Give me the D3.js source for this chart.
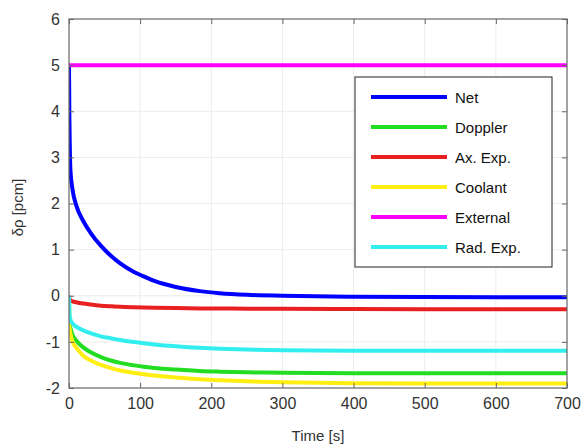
<!DOCTYPE html>
<html><head><meta charset="utf-8">
<script src="https://cdn.jsdelivr.net/npm/d3@7"></script>
<style>body{margin:0;background:#fff}svg{display:block}</style>
</head><body>
<svg id="c" width="582" height="448"></svg>
<script>
const times    = [0, 0.5, 1, 2, 5, 10, 20, 30, 45, 60, 72, 92, 105, 120, 150, 184, 212, 250, 300, 400, 500, 600, 700];
const net      = [5, 3.9, 3.35, 2.72, 2.3, 1.97, 1.62, 1.37, 1.08, 0.85, 0.7, 0.51, 0.42, 0.32, 0.19, 0.1, 0.055, 0.02, 0.0, -0.02, -0.028, -0.03, -0.03];
const doppler  = [0, -0.55, -0.62, -0.7, -0.85, -0.97, -1.12, -1.22, -1.33, -1.41, -1.455, -1.51, -1.54, -1.565, -1.6, -1.63, -1.645, -1.66, -1.67, -1.68, -1.68, -1.68, -1.68];
const axExp    = [0, -0.06, -0.08, -0.1, -0.12, -0.14, -0.17, -0.19, -0.215, -0.23, -0.24, -0.25, -0.255, -0.26, -0.268, -0.274, -0.277, -0.28, -0.283, -0.287, -0.29, -0.29, -0.29];
const coolant  = [0, -0.65, -0.72, -0.82, -1.0, -1.12, -1.3, -1.4, -1.5, -1.575, -1.62, -1.675, -1.7, -1.73, -1.77, -1.81, -1.83, -1.855, -1.875, -1.895, -1.9, -1.9, -1.9];
const external = [5, 5, 5, 5, 5, 5, 5, 5, 5, 5, 5, 5, 5, 5, 5, 5, 5, 5, 5, 5, 5, 5, 5];
const radExp   = [0, -0.35, -0.45, -0.52, -0.6, -0.67, -0.75, -0.81, -0.88, -0.925, -0.96, -1.005, -1.03, -1.055, -1.095, -1.13, -1.15, -1.168, -1.18, -1.19, -1.19, -1.19, -1.19];
const seriesNames = ["Net", "Doppler", "Ax. Exp.", "Coolant", "External", "Rad. Exp."];
const seriesValues = [net, doppler, axExp, coolant, external, radExp];
const seriesColors = ["#0000ff", "#22dd22", "#e82020", "#ffee11", "#ff00ff", "#33eeee"];
const xTicks = [0, 100, 200, 300, 400, 500, 600, 700];
const yTicks = [-2, -1, 0, 1, 2, 3, 4, 5, 6];

const svg = d3.select("#c");
const L = 69, R = 567, T = 19, B = 388;
const x = d3.scaleLinear().domain([0, 700]).range([L, R]);
const y = d3.scaleLinear().domain([-2, 6]).range([B, T]);
const font = "Arial, 'Liberation Sans', sans-serif";

// grid
const g = svg.append("g");
g.selectAll(".gx").data(xTicks.slice(1, -1)).enter().append("line")
  .attr("x1", d => x(d)).attr("x2", d => x(d)).attr("y1", T).attr("y2", B)
  .attr("stroke", "#ececec").attr("stroke-width", 1);
g.selectAll(".gy").data(yTicks.slice(1, -1)).enter().append("line")
  .attr("y1", d => y(d)).attr("y2", d => y(d)).attr("x1", L).attr("x2", R)
  .attr("stroke", "#ececec").attr("stroke-width", 1);

// lines
const line = d3.line().x((d, i) => x(times[i])).y(d => y(d)).curve(d3.curveMonotoneX);
svg.append("clipPath").attr("id", "cp").append("rect")
  .attr("x", L).attr("y", T - 3).attr("width", R - L).attr("height", B - T + 3);
seriesValues.forEach((vals, k) => {
  svg.append("path").attr("d", line(vals)).attr("fill", "none")
    .attr("stroke", seriesColors[k]).attr("stroke-width", 4)
    .attr("stroke-linejoin", "round")
    .attr("clip-path", "url(#cp)");
});

// axes (MATLAB style, inward ticks, box)
const tickLen = 5;
svg.append("rect").attr("x", L).attr("y", T).attr("width", R - L).attr("height", B - T)
  .attr("stroke", "#666").attr("stroke-width", 1.2).attr("fill", "none");
const fmt = d => String(d).replace("\u2212", "-");
const xb = d3.axisBottom(x).tickValues(xTicks).tickSize(-tickLen).tickFormat(fmt);
const yl = d3.axisLeft(y).tickValues(yTicks).tickSize(-tickLen).tickFormat(fmt);
const xt = d3.axisTop(x).tickValues(xTicks).tickSize(-tickLen).tickFormat("");
const yr = d3.axisRight(y).tickValues(yTicks).tickSize(-tickLen).tickFormat("");
function style(sel) {
  sel.select(".domain").remove();
  sel.selectAll(".tick line").attr("stroke", "#666");
  sel.selectAll("text").attr("fill", "#333").style("font-family", font).style("font-size", "16px");
}
svg.append("g").attr("transform", `translate(0,${B})`).call(xb).call(style)
  .selectAll("text").attr("dy", "1.1em");
svg.append("g").attr("transform", `translate(${L},0)`).call(yl).call(style)
  .selectAll("text").attr("x", -9);
svg.append("g").attr("transform", `translate(0,${T})`).call(xt).call(style);
svg.append("g").attr("transform", `translate(${R},0)`).call(yr).call(style);

// axis labels
svg.append("text").attr("x", (L + R) / 2).attr("y", 441).attr("text-anchor", "middle")
  .attr("fill", "#333").style("font-family", font).style("font-size", "15px").text("Time [s]");
svg.append("text").attr("transform", `translate(23,${(T + B) / 2 + 4}) rotate(-90)`)
  .attr("text-anchor", "middle").attr("fill", "#333")
  .style("font-family", font).style("font-size", "15px").text("δρ [pcm]");

// legend
const lg = svg.append("g");
lg.append("rect").attr("x", 355).attr("y", 77).attr("width", 197).attr("height", 190)
  .attr("fill", "#fff").attr("stroke", "#222").attr("stroke-width", 1);
seriesNames.forEach((n, i) => {
  const yy = 97 + i * 30;
  lg.append("line").attr("x1", 371).attr("x2", 447).attr("y1", yy).attr("y2", yy)
    .attr("stroke", seriesColors[i]).attr("stroke-width", 4);
  lg.append("text").attr("x", 455).attr("y", yy + 5.5).attr("fill", "#111")
    .style("font-family", font).style("font-size", "15px").text(n);
});
</script>
</body></html>
